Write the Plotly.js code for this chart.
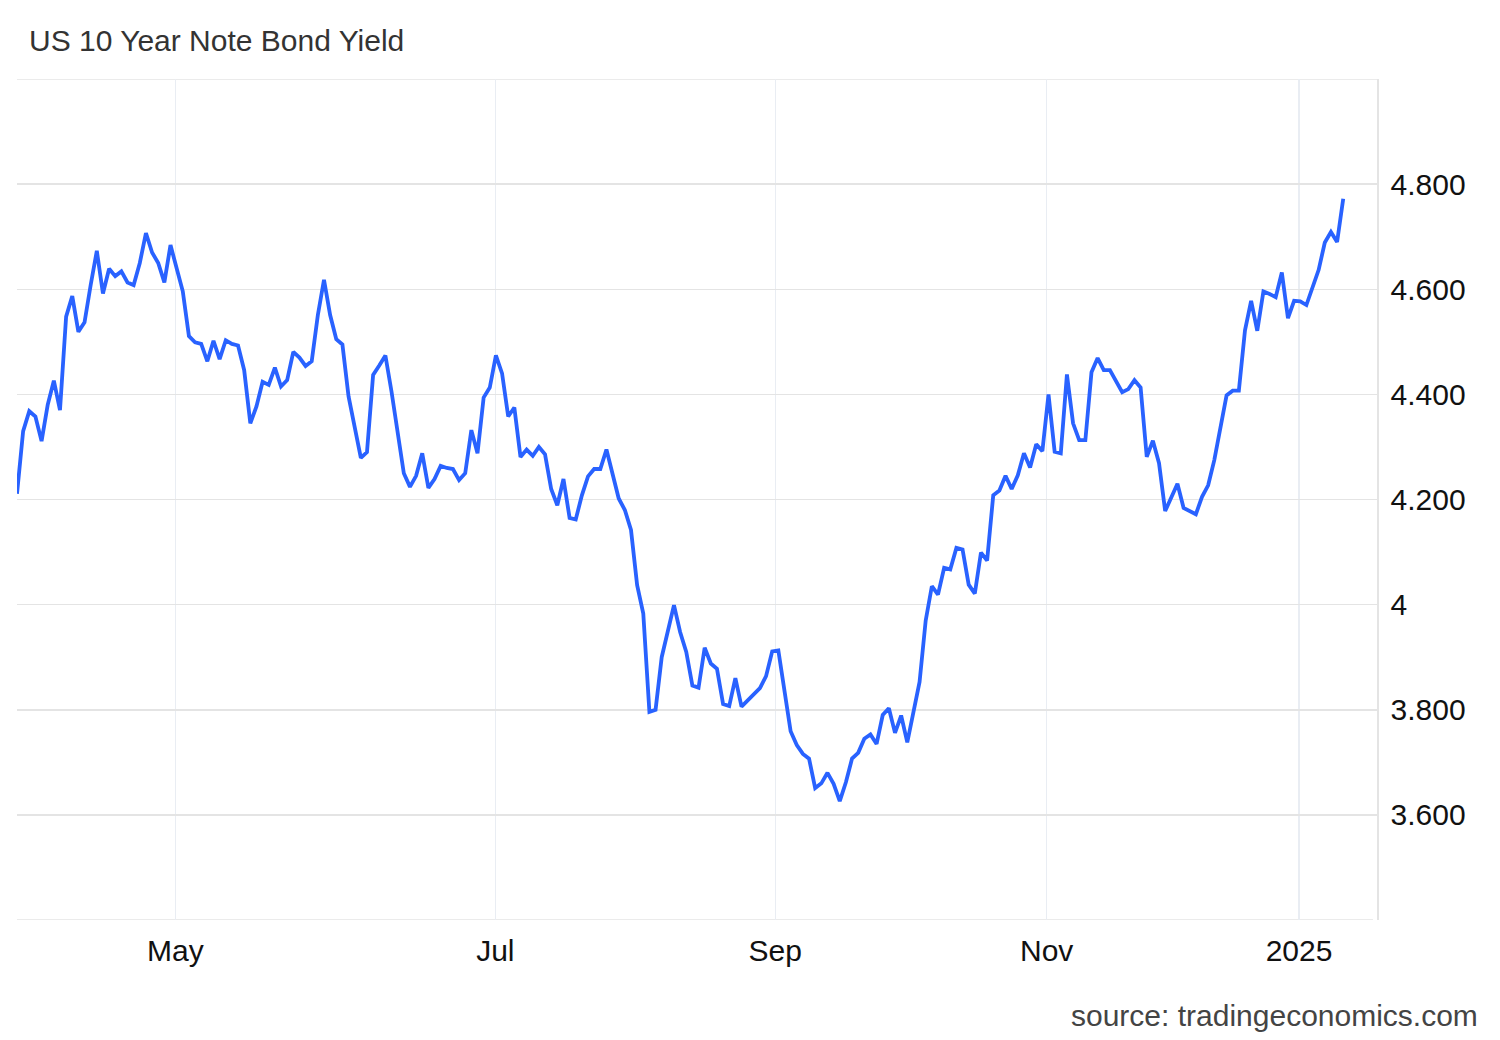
<!DOCTYPE html>
<html>
<head>
<meta charset="utf-8">
<script src="https://cdn.plot.ly/plotly-3.0.1.min.js"></script>
<style>
  html, body { margin: 0; padding: 0; background: #ffffff; }
  #chart { width: 1500px; height: 1040px; }
</style>
</head>
<body>
<div id="chart"></div>
<script>
const yieldValues = [
  4.211, 4.330, 4.368, 4.358, 4.311, 4.380, 4.426, 4.370, 4.548, 4.587,
  4.519, 4.537, 4.608, 4.673, 4.592, 4.639, 4.625, 4.634, 4.613, 4.608,
  4.650, 4.707, 4.670, 4.650, 4.613, 4.684, 4.640, 4.596, 4.511, 4.499,
  4.496, 4.463, 4.502, 4.467, 4.503, 4.496, 4.493, 4.446, 4.345, 4.377,
  4.424, 4.418, 4.451, 4.415, 4.427, 4.481, 4.470, 4.454, 4.463, 4.551,
  4.618, 4.551, 4.505, 4.495, 4.396, 4.338, 4.279, 4.290, 4.437, 4.455,
  4.474, 4.405, 4.322, 4.250, 4.224, 4.245, 4.288, 4.222, 4.239, 4.264,
  4.260, 4.258, 4.237, 4.250, 4.332, 4.288, 4.394, 4.413, 4.474, 4.440,
  4.358, 4.375, 4.281, 4.295, 4.283, 4.300, 4.286, 4.220, 4.189, 4.239,
  4.165, 4.162, 4.208, 4.244, 4.258, 4.258, 4.295, 4.250, 4.202, 4.180,
  4.142, 4.037, 3.983, 3.796, 3.800, 3.900, 3.953, 3.999, 3.948, 3.910,
  3.846, 3.842, 3.918, 3.888, 3.878, 3.811, 3.807, 3.860, 3.806, 3.818,
  3.830, 3.841, 3.864, 3.911, 3.913, 3.834, 3.759, 3.733, 3.716, 3.707,
  3.651, 3.660, 3.680, 3.659, 3.626, 3.662, 3.707, 3.718, 3.745, 3.753,
  3.735, 3.790, 3.803, 3.756, 3.789, 3.738, 3.792, 3.853, 3.970, 4.035,
  4.019, 4.070, 4.067, 4.108, 4.105, 4.038, 4.021, 4.099, 4.084, 4.208,
  4.217, 4.245, 4.220, 4.246, 4.288, 4.261, 4.305, 4.292, 4.400, 4.291,
  4.288, 4.438, 4.345, 4.313, 4.313, 4.442, 4.469, 4.446, 4.446, 4.426,
  4.404, 4.410, 4.427, 4.413, 4.281, 4.312, 4.269, 4.178, 4.203, 4.230,
  4.184, 4.178, 4.172, 4.205, 4.227, 4.275, 4.332, 4.398, 4.407, 4.407,
  4.522, 4.578, 4.521, 4.596, 4.591, 4.585, 4.632, 4.545, 4.578, 4.577,
  4.570, 4.602, 4.637, 4.689, 4.709, 4.690, 4.772
];

// Month tick labels and where they fall along the observation sequence
const xTickLabels = ["May", "Jul", "Sep", "Nov", "2025"];
const xTickAt = [25.8, 77.9, 123.5, 167.7, 208.8];

// Y-axis ticks as labelled in the reference
const yTickVals = [3.6, 3.8, 4.0, 4.2, 4.4, 4.6, 4.8];
const yTickText = ["3.600", "3.800", "4", "4.200", "4.400", "4.600", "4.800"];
const yMin = 3.4, yMax = 5.0;

const xIndex = yieldValues.map((_, i) => i);

const trace = {
  type: "scatter",
  mode: "lines",
  x: xIndex,
  y: yieldValues,
  line: { color: "#2962ff", width: 3.8, shape: "linear" },
  hoverinfo: "y"
};

const font = "Arial, 'Liberation Sans', sans-serif";
const gridH = "#e4e4e4";

const layout = {
  width: 1500,
  height: 1040,
  paper_bgcolor: "#ffffff",
  plot_bgcolor: "#ffffff",
  margin: { l: 17, r: 123, t: 79, b: 120 },
  showlegend: false,
  title: {
    text: "US 10 Year Note Bond Yield",
    font: { family: font, size: 30, color: "#333333" },
    x: 29 / 1500, xanchor: "left", xref: "container",
    y: 1 - 40 / 1040, yanchor: "middle", yref: "container"
  },
  xaxis: {
    range: [0, 221.5],
    tickvals: xTickAt,
    ticktext: xTickLabels,
    showgrid: true,
    gridcolor: "#e9edf3",
    gridwidth: 1.5,
    zeroline: false,
    showline: false,
    ticks: "",
    ticklabelstandoff: 10,
    tickfont: { family: font, size: 30, color: "#111111" },
    fixedrange: true
  },
  yaxis: {
    side: "right",
    range: [yMin, yMax],
    tickvals: yTickVals,
    ticktext: yTickText,
    showgrid: true,
    gridcolor: gridH,
    gridwidth: 1.5,
    zeroline: false,
    showline: true,
    linecolor: gridH,
    linewidth: 1.5,
    ticks: "",
    ticklabelstandoff: 6,
    tickfont: { family: font, size: 30, color: "#111111" },
    fixedrange: true
  },
  shapes: [
    { type: "line", xref: "paper", yref: "y", x0: 0, x1: 1, y0: yMax, y1: yMax,
      line: { color: gridH, width: 1.5 }, layer: "below" },
    { type: "line", xref: "paper", yref: "y", x0: 0, x1: 0.997, y0: yMin, y1: yMin,
      line: { color: gridH, width: 1.5 }, layer: "below" }
  ],
  annotations: [{
    text: "source: tradingeconomics.com",
    xref: "paper", yref: "paper",
    x: (1480 - 17) / 1360, xanchor: "right",
    y: (920 - 1016) / 841, yanchor: "middle",
    showarrow: false,
    font: { family: font, size: 30, color: "#444444" }
  }]
};

Plotly.newPlot("chart", [trace], layout, { displayModeBar: false, staticPlot: true });
</script>
</body>
</html>
